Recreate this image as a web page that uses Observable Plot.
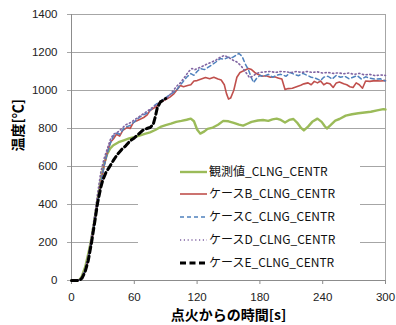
<!DOCTYPE html>
<html><head><meta charset="utf-8">
<script src="https://cdn.jsdelivr.net/npm/d3@7"></script>
<script src="https://cdn.jsdelivr.net/npm/@observablehq/plot@0.6"></script>
<style>body{margin:0;background:#fff}</style>
</head><body><div id="chart"></div>
<script>
const seriesNames = ["観測値_CLNG_CENTR","ケースB_CLNG_CENTR","ケースC_CLNG_CENTR","ケースD_CLNG_CENTR","ケースE_CLNG_CENTR"];
const xTicks = [0,60,120,180,240,300];
const yTicks = [0,200,400,600,800,1000,1200,1400];

const obsT = [0,5,8,10,13,16,19,22,25,28,31,34,37,40,45,50,55,60,65,70,75,80,85,90,95,100,105,110,114,117,120,123,127,130,135,140,145,150,155,160,164,168,172,178,183,188,192,196,200,204,208,212,216,219,222,226,230,235,239,242,244,247,252,256,262,268,274,280,286,292,298,300];
const obsV = [0,0,5,25,70,140,220,320,430,530,610,665,695,712,728,738,748,755,763,772,780,792,808,818,826,835,840,846,852,838,795,773,785,798,805,820,840,838,830,820,815,825,835,842,845,840,848,852,845,832,845,850,828,805,790,810,835,852,835,812,800,815,842,850,868,875,880,884,888,895,902,900];

const caseBT = [0,5,8,10,13,16,19,22,25,28,31,34,37,40,43,46,49,53,56,59,62,66,69,72,75,78,81,84,88,91,94,98,101,104,107,111,114,117,120,124,128,132,136,140,143,146,148,150,152,155,158,161,165,169,172,175,178,182,186,190,194,198,201,204,207,211,215,219,222,226,229,232,235,238,241,244,247,250,253,256,260,263,266,269,272,275,278,281,285,290,295,300];
const caseBV = [0,0,3,15,50,110,200,300,410,510,600,670,726,745,770,760,790,805,800,831,840,850,858,870,895,905,915,935,947,955,965,984,1005,1026,1020,1026,1030,1050,1052,1060,1068,1062,1070,1060,1055,1030,985,955,960,1000,1070,1095,1105,1116,1110,1095,1085,1075,1078,1070,1072,1065,1060,1005,1010,1012,1020,1028,1035,1040,1030,1048,1040,1050,1030,1040,1035,1016,1040,1045,1035,1030,1020,1016,1040,1030,1012,1050,1048,1052,1050,1052];

const caseCT = [0,5,8,10,13,16,19,22,25,28,31,34,37,40,43,46,50,53,56,60,64,68,72,76,80,84,88,92,96,100,104,106,110,114,117,120,123,127,130,134,138,142,146,150,154,157,160,163,166,169,172,174,177,180,184,188,192,196,200,205,209,213,217,221,225,229,233,238,241,245,249,253,257,261,265,269,273,277,281,285,290,295,300];
const caseCV = [0,0,3,15,50,110,200,300,405,505,600,665,720,760,775,770,800,810,816,835,855,870,880,900,925,940,955,970,985,1000,1030,1042,1070,1089,1080,1100,1116,1110,1120,1135,1150,1168,1165,1175,1174,1185,1195,1180,1140,1110,1065,1042,1065,1079,1075,1085,1070,1080,1085,1075,1095,1085,1078,1090,1080,1070,1065,1052,1070,1075,1060,1080,1070,1075,1062,1070,1078,1060,1072,1065,1060,1062,1050];

const caseDT = [0,5,8,10,13,16,19,22,25,28,31,34,37,40,44,48,52,56,60,64,68,72,76,80,84,88,92,96,100,104,108,112,115,118,122,126,130,134,138,142,146,150,154,158,162,166,170,173,177,180,185,190,195,200,205,210,215,220,225,230,235,240,245,250,255,260,265,270,275,280,285,290,295,300];
const caseDV = [0,0,3,20,60,130,230,340,460,570,640,690,740,770,780,800,820,830,845,860,875,890,905,920,935,950,965,990,1020,1040,1070,1100,1116,1110,1120,1130,1140,1150,1160,1175,1184,1175,1160,1150,1130,1100,1068,1075,1090,1095,1098,1100,1095,1100,1098,1095,1100,1095,1100,1095,1098,1092,1095,1090,1093,1088,1092,1085,1090,1082,1085,1078,1082,1079];

const caseET = [0,5,8,10,13,16,19,22,25,28,30,33,36,40,44,48,52,56,60,64,68,72,75,78,80,82,85,88,90];
const caseEV = [0,0,2,12,45,105,195,300,410,490,530,570,595,632,665,690,710,735,750,770,790,800,805,820,860,910,940,950,958];

const seriesT = [obsT, caseBT, caseCT, caseDT, caseET];
const seriesV = [obsV, caseBV, caseCV, caseDV, caseEV];
const colors = ["#9bbb59","#c0504d","#4f81bd","#8064a2","#000000"];
const widths = [2.4,1.6,1.5,1.6,3];
const dashes = [null,null,"4,3","1.2,2.6","6,3.5"];

const rows = [];
seriesNames.forEach((name,i)=>{
  seriesT[i].forEach((t,j)=>rows.push({series:name, t, v:seriesV[i][j]}));
});

const lineMarks = seriesNames.map((name,i)=>Plot.line(rows.filter(d=>d.series===name),{
  x:"t", y:"v", stroke:colors[i], strokeWidth:widths[i], strokeDasharray:dashes[i], strokeLinejoin:"round"
}));

const chart = Plot.plot({
  width:396, height:325,
  marginLeft:71, marginRight:11, marginTop:14, marginBottom:45,
  style:{fontFamily:"'Liberation Sans', 'Noto Sans', sans-serif", fontSize:"11.5px", color:"#222", background:"#fff"},
  x:{domain:[0,300]},
  y:{domain:[0,1400]},
  marks:[
    Plot.gridY(yTicks,{stroke:"#a6a6a6", strokeOpacity:1, strokeWidth:1}),
    Plot.ruleX([300],{stroke:"#a6a6a6"}),
    Plot.axisY(yTicks,{tickSize:4, tickPadding:10, stroke:"#a6a6a6", label:null, tickFormat:d=>String(d)}),
    Plot.axisX(xTicks,{tickSize:4, tickPadding:8, stroke:"#8c8c8c", label:null, tickFormat:d=>String(d)}),
    Plot.ruleX([0],{stroke:"#8c8c8c"}),
    Plot.ruleY([0],{stroke:"#8c8c8c"}),
    ...lineMarks,
    Plot.text(["温度[℃]"],{frameAnchor:"left", dx:-53, dy:4, rotate:-90, fontSize:14, fontWeight:"bold", fill:"#000", fontFamily:"'Noto Sans CJK JP'"}),
    Plot.text(["点火からの時間[s]"],{frameAnchor:"bottom", dy:39, fontSize:14, fontWeight:"bold", fill:"#000", fontFamily:"'Noto Sans CJK JP'"})
  ]
});
document.getElementById("chart").appendChild(chart);

// legend inside the plot area
const svg = d3.select(chart);
const lg = svg.append("g").attr("text-anchor","start");
lg.append("rect").attr("x",138).attr("y",157).attr("width",222).attr("height",118).attr("fill","#fff");
const rowY = [172,194,217,240,263];
seriesNames.forEach((name,i)=>{
  lg.append("line").attr("x1",180).attr("x2",207).attr("y1",rowY[i]).attr("y2",rowY[i])
    .attr("stroke",colors[i]).attr("stroke-width",widths[i]).attr("stroke-dasharray",dashes[i]);
  lg.append("text").attr("x",209).attr("y",rowY[i]).attr("dy","0.35em").attr("text-anchor","start")
    .attr("font-family","'Noto Sans CJK JP'").attr("font-size",12).attr("fill","#111").text(name);
});
</script>
</body></html>
